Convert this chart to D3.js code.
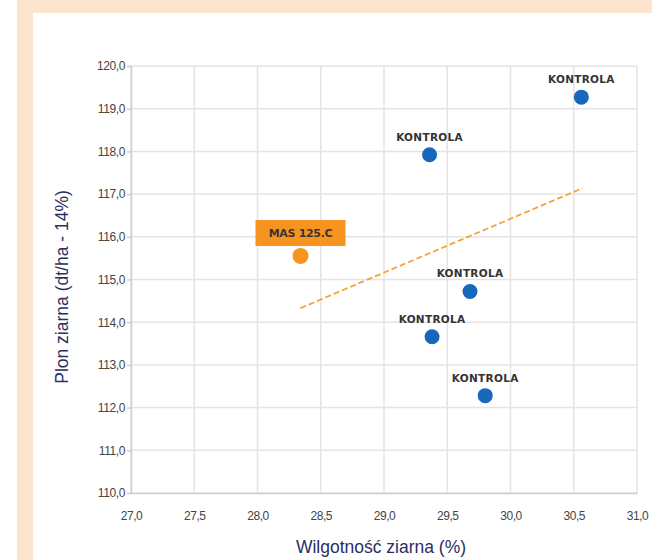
<!DOCTYPE html>
<html>
<head>
<meta charset="utf-8">
<script src="https://cdn.jsdelivr.net/npm/d3@7"></script>
<style>
  html, body { margin: 0; padding: 0; background: #ffffff; }
  svg { display: block; }
</style>
</head>
<body>
<svg id="chart" width="652" height="560"></svg>
<script>
// ---- data ----
const labels = ["MAS 125.C", "KONTROLA", "KONTROLA", "KONTROLA", "KONTROLA", "KONTROLA"];
const moisture = [28.34, 29.36, 29.68, 29.38, 29.80, 30.56];
const yieldVals = [115.55, 117.92, 114.72, 113.66, 112.28, 119.27];
const isHybrid = [true, false, false, false, false, false];
const trendX = [28.34, 30.57];
const trendY = [114.33, 117.14];
const xTicks = [27.0, 27.5, 28.0, 28.5, 29.0, 29.5, 30.0, 30.5, 31.0];
const yTicks = [110, 111, 112, 113, 114, 115, 116, 117, 118, 119, 120];
const xTitle = "Wilgotność ziarna (%)";
const yTitle = "Plon ziarna (dt/ha - 14%)";

const svg = d3.select("#chart");
const W = 652, H = 560;

// frame
svg.append("rect").attr("x", 17).attr("y", 0).attr("width", W - 17).attr("height", H).attr("fill", "#fde4cf");
svg.append("rect").attr("x", 33).attr("y", 13).attr("width", W - 33).attr("height", H - 13).attr("fill", "#ffffff");

const x = d3.scaleLinear().domain([27, 31]).range([131, 637]);
const y = d3.scaleLinear().domain([110, 120]).range([493, 66]);
const fmt = v => d3.format(".1f")(v).replace(".", ",");

// grid
const g = svg.append("g");
g.selectAll("line.vg").data(xTicks).join("line")
  .attr("x1", d => x(d)).attr("x2", d => x(d))
  .attr("y1", y(110)).attr("y2", y(120))
  .attr("stroke", "#e4e4e4").attr("stroke-width", 1.5);
g.selectAll("line.hg").data(yTicks).join("line")
  .attr("x1", x(27)).attr("x2", x(31))
  .attr("y1", d => y(d)).attr("y2", d => y(d))
  .attr("stroke", "#e4e4e4").attr("stroke-width", 1.5);

// axes
const xAxis = d3.axisBottom(x).tickValues(xTicks).tickFormat(fmt).tickSize(0).tickPadding(18);
const yAxis = d3.axisLeft(y).tickValues(yTicks).tickFormat(fmt).tickSize(4).tickPadding(2);
const gx = svg.append("g").attr("transform", `translate(0,${y(110)})`).call(xAxis);
const gy = svg.append("g").attr("transform", `translate(${x(27)},0)`).call(yAxis);
[gx, gy].forEach(a => {
  a.select(".domain").attr("stroke", "#cfcfcf").attr("stroke-width", 1.5);
  a.selectAll(".tick line").attr("stroke", "#cfcfcf").attr("stroke-width", 1.5);
  a.selectAll("text").attr("fill", "#444").attr("font-family", "Liberation Sans, Arial, sans-serif")
    .attr("font-size", 12).attr("letter-spacing", "-0.4");
});

// titles
svg.append("text").attr("x", 381).attr("y", 553).attr("text-anchor", "middle")
  .attr("font-family", "Liberation Sans, Arial, sans-serif").attr("font-size", 17.5)
  .attr("fill", "#2b2f5e").text(xTitle);
svg.append("text").attr("transform", "translate(68,287) rotate(-90)").attr("text-anchor", "middle")
  .attr("font-family", "Liberation Sans, Arial, sans-serif").attr("font-size", 17.5)
  .attr("fill", "#2b2f5e").text(yTitle);

// trend line
const line = d3.line().x(d => x(d[0])).y(d => y(d[1]));
svg.append("path").datum(d3.zip(trendX, trendY)).attr("d", line)
  .attr("fill", "none").attr("stroke", "#f7a23a").attr("stroke-width", 1.8)
  .attr("stroke-dasharray", "6,3");

// points
const pts = labels.map((l, i) => ({ l, x: moisture[i], y: yieldVals[i], h: isHybrid[i] }));
svg.selectAll("circle.pt").data(pts).join("circle")
  .attr("cx", d => x(d.x)).attr("cy", d => y(d.y))
  .attr("r", d => d.h ? 8 : 7.5)
  .attr("fill", d => d.h ? "#f79420" : "#1767bd");

// labels
pts.forEach(d => {
  const cx = x(d.x), cy = y(d.y);
  if (d.h) {
    svg.append("rect").attr("x", cx - 45).attr("y", cy - 36).attr("width", 90).attr("height", 26)
      .attr("fill", "#f79420");
    svg.append("text").attr("x", cx).attr("y", cy - 19).attr("text-anchor", "middle")
      .attr("font-family", "DejaVu Sans, sans-serif").attr("font-weight", "bold").attr("font-size", 11)
      .attr("fill", "#3a3530").attr("letter-spacing", "-0.3").text(d.l);
  } else {
    svg.append("text").attr("x", cx).attr("y", cy - 14).attr("text-anchor", "middle")
      .attr("font-family", "DejaVu Sans, sans-serif").attr("font-weight", "bold").attr("font-size", 10.5)
      .attr("fill", "#333").attr("letter-spacing", "0.3").text(d.l);
  }
});
</script>
</body>
</html>
